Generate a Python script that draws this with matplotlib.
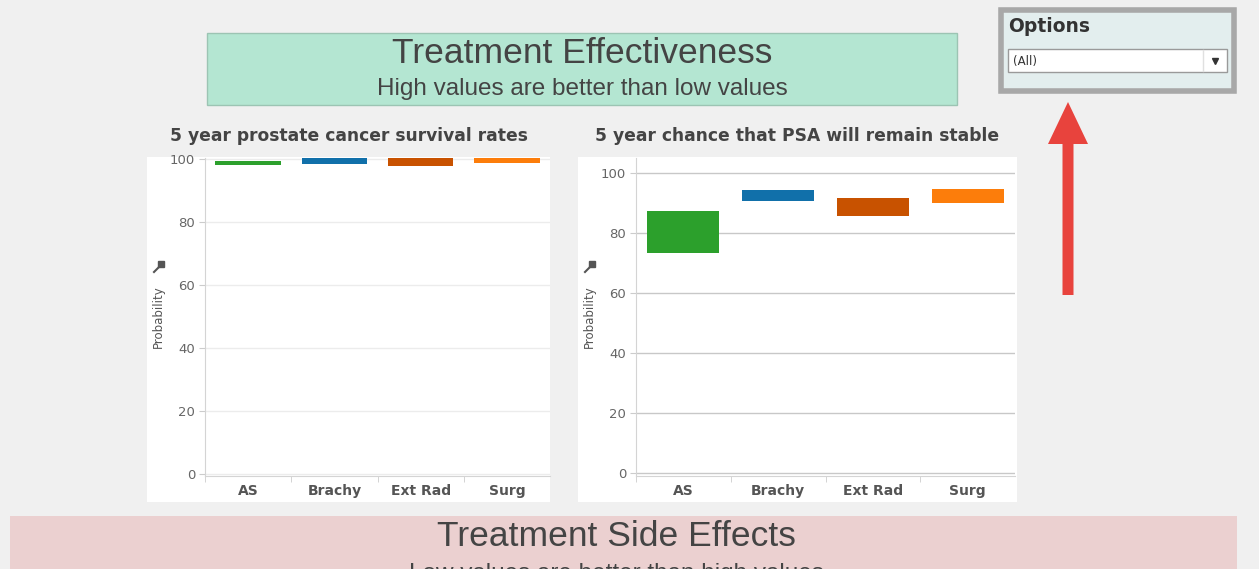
import matplotlib
matplotlib.use("Agg")
import matplotlib.pyplot as plt
from matplotlib.patches import Rectangle, FancyArrow

# datos
categories = ["AS", "Brachy", "Ext Rad", "Surg"]
surv_low = [98.0, 98.4, 97.8, 98.7]
surv_high = [99.5, 100.5, 100.5, 100.5]
psa_low = [73.5, 90.8, 85.7, 90.0]
psa_high = [87.3, 94.2, 91.6, 94.7]
bar_colors = ["#2ca02c", "#1170aa", "#c85200", "#fc7d0b"]
y_ticks = [0, 20, 40, 60, 80, 100]

W, H = 1259, 569
fig = plt.figure(figsize=(W / 100, H / 100), dpi=100, facecolor="#f0f0f0")

# capa de fondo en coordenadas de píxel
bg = fig.add_axes([0, 0, 1, 1])
bg.set_xlim(0, W)
bg.set_ylim(H, 0)
bg.axis("off")


def rect(x0, y0, x1, y1, fc, ec="none", lw=0):
    bg.add_patch(Rectangle((x0, y0), x1 - x0, y1 - y0, facecolor=fc,
                           edgecolor=ec, linewidth=lw))


# cabecera verde
rect(207, 33, 957, 105, "#b4e6d2", "#9cc4b3", 1)
bg.text(582, 53, "Treatment Effectiveness", ha="center", va="center",
        fontsize=25.5, family="Liberation Sans", color="#444444")
bg.text(582, 89, "High values are better than low values", ha="center",
        va="center", fontsize=17.5, family="Liberation Sans", color="#444444")

# paneles blancos
rect(147, 157, 550, 502, "white")
rect(578, 157, 1017, 502, "white")
bg.text(349, 136, "5 year prostate cancer survival rates", ha="center",
        va="center", fontsize=12.3, fontweight="bold", color="#444444")
bg.text(797, 136, "5 year chance that PSA will remain stable", ha="center",
        va="center", fontsize=12.3, fontweight="bold", color="#444444")

# banda inferior rosa (el subtítulo queda cortado como en el original)
rect(10, 516, 1237, 600, "#ebd0d0")
bg.text(616, 536, "Treatment Side Effects", ha="center", va="center",
        fontsize=25.5, family="Liberation Sans", color="#444444")
bg.text(616, 574, "Low values are better than high values", ha="center",
        va="center", fontsize=17.5, family="Liberation Sans", color="#444444")

# caja de opciones
rect(1001, 10, 1234, 91, "#e3eeee", "#a8a8a8", 4)
bg.text(1008, 26, "Options", ha="left", va="center", fontsize=13.5,
        fontweight="bold", color="#333333")
rect(1008, 49, 1227, 72, "white", "#9a9a9a", 1)
bg.plot([1203, 1203], [50, 71], color="#e0e0e0", lw=1)
bg.text(1013, 61, "(All)", ha="left", va="center", fontsize=8.5,
        color="#333333")
bg.plot([1215], [61], marker="v", color="#333333", markersize=4)

# flecha roja
bg.add_patch(FancyArrow(1068, 295, 0, -193, width=11, head_width=40,
                        head_length=42, length_includes_head=True,
                        color="#e8433d", linewidth=0))

# chinchetas junto al eje
for px in (158, 589):
    bg.plot([px - 4, px + 3], [272, 265], color="#555555", lw=1.5)
    bg.plot([px + 3], [264], marker="s", color="#555555", markersize=4)


def make_chart(rect_fig, low, high, ylim, grid_color, label_x):
    ax = fig.add_axes(rect_fig)
    ax.set_facecolor("white")
    x = list(range(len(categories)))
    heights = [h - l for l, h in zip(low, high)]
    ax.bar(x, heights, bottom=low, width=0.76, color=bar_colors, zorder=3)
    ax.set_xlim(-0.5, len(categories) - 0.5)
    ax.set_ylim(*ylim)
    ax.set_yticks(y_ticks)
    ax.set_xticks(x)
    ax.set_xticklabels(categories, fontweight="bold", fontsize=10,
                       color="#555555")
    ax.set_xticks([i - 0.5 for i in x], minor=True)
    ax.tick_params(axis="x", which="major", length=0, pad=6)
    ax.tick_params(axis="x", which="minor", length=4, color="#cccccc")
    ax.tick_params(axis="y", length=4, color="#cccccc", labelsize=9.5,
                   labelcolor="#666666", pad=3)
    ax.grid(axis="y", color=grid_color, linewidth=1, zorder=0)
    for s in ("top", "right"):
        ax.spines[s].set_visible(False)
    for s in ("left", "bottom"):
        ax.spines[s].set_color("#d4d4d4")
    ax.set_ylabel("Probability", fontsize=8.5, color="#555555")
    ax.yaxis.set_label_coords(label_x, 0.5)
    return ax


make_chart([205 / W, 1 - 476 / H, 345 / W, 318 / H], surv_low, surv_high,
           (-0.6, 100.3), "#ececec", -0.116)
make_chart([636 / W, 1 - 476 / H, 379 / W, 318 / H], psa_low, psa_high,
           (-1, 105), "#c8c8c8", -0.105)

fig.savefig("out.png", dpi=100, facecolor=fig.get_facecolor())
